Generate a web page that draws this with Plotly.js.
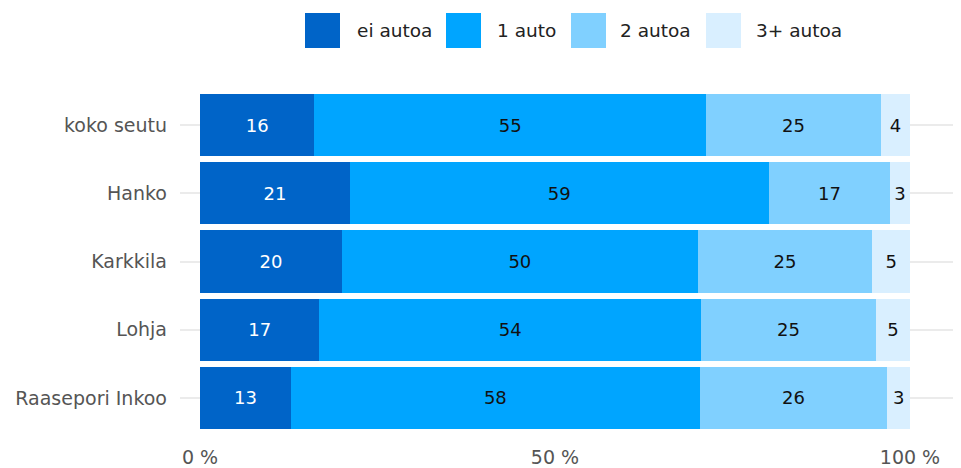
<!DOCTYPE html>
<html>
<head>
<meta charset="utf-8">
<script src="https://cdn.plot.ly/plotly-3.0.1.min.js"></script>
<style>html,body{margin:0;padding:0;background:#fff}#chart{width:961px;height:468px}</style>
</head>
<body>
<div id="chart"></div>
<script>
const categories = ["koko seutu", "Hanko", "Karkkila", "Lohja", "Raasepori Inkoo"];
const seriesNames = ["ei autoa", "1 auto", "2 autoa", "3+ autoa"];
const eiAutoa = [16.1, 21.1, 20.0, 16.8, 12.8];
const yksiAuto = [55.2, 59.0, 50.1, 53.8, 57.6];
const kaksiAutoa = [24.6, 17.1, 24.6, 24.6, 26.4];
const kolmeAutoa = [4.1, 2.8, 5.3, 4.8, 3.2];
const xTickVals = [0, 50, 100];
const xTickText = ["0 %", "50 %", "100 %"];
const colors = ["#0064c8", "#00a5ff", "#80d0ff", "#d9efff"];
const textColors = ["#ffffff", "#111111", "#111111", "#111111"];

const FONT = "DejaVu Sans, Verdana, sans-serif";
const series = [eiAutoa, yksiAuto, kaksiAutoa, kolmeAutoa];

const traces = series.map((vals, i) => ({
  type: "bar",
  orientation: "h",
  name: seriesNames[i],
  y: categories,
  x: vals,
  marker: {color: colors[i], line: {width: 0}},
  texttemplate: "%{x:.0f}",
  textposition: "inside",
  insidetextanchor: "middle",
  textangle: 0,
  insidetextfont: {family: FONT, size: 18, color: textColors[i]},
  hoverinfo: "skip",
  showlegend: false
}));

// plot-area geometry in pixels (for placing the legend)
const L = 180, T = 91, W = 773, H = 341.5;
const px = x => (x - L) / W;
const py = y => (T + H - y) / H;
const legSq = [305, 446, 571, 706];
const legTx = [355, 495, 618, 754];
const shapes = [], annotations = [];
seriesNames.forEach((n, i) => {
  shapes.push({type: "rect", xref: "paper", yref: "paper",
    x0: px(legSq[i]), x1: px(legSq[i] + 35), y0: py(48), y1: py(13),
    fillcolor: colors[i], line: {width: 0}});
  annotations.push({xref: "paper", yref: "paper", x: px(legTx[i]), y: py(30),
    xanchor: "left", yanchor: "middle", text: n, showarrow: false,
    font: {family: FONT, size: 18.5, color: "#222222"}});
});

const layout = {
  width: 961, height: 468,
  margin: {l: L, r: 961 - L - W, t: T, b: 468 - T - H, pad: 0},
  paper_bgcolor: "#ffffff", plot_bgcolor: "#ffffff",
  barmode: "stack",
  bargap: 0.09,
  showlegend: false,
  font: {family: FONT, size: 19, color: "#555555"},
  xaxis: {range: [-2.82, 106.06], tickvals: xTickVals, ticktext: xTickText,
    showgrid: false, zeroline: false, showline: false, ticks: "", ticklabelstandoff: 12,
    tickfont: {family: FONT, size: 19, color: "#555555"}, fixedrange: true},
  yaxis: {autorange: "reversed", showgrid: true, gridcolor: "#ebebeb", gridwidth: 2,
    zeroline: false, showline: false, ticks: "", ticklabelstandoff: 12,
    tickfont: {family: FONT, size: 19, color: "#555555"}, fixedrange: true},
  shapes: shapes,
  annotations: annotations
};

Plotly.newPlot("chart", traces, layout, {displayModeBar: false, staticPlot: true});
</script>
</body>
</html>
